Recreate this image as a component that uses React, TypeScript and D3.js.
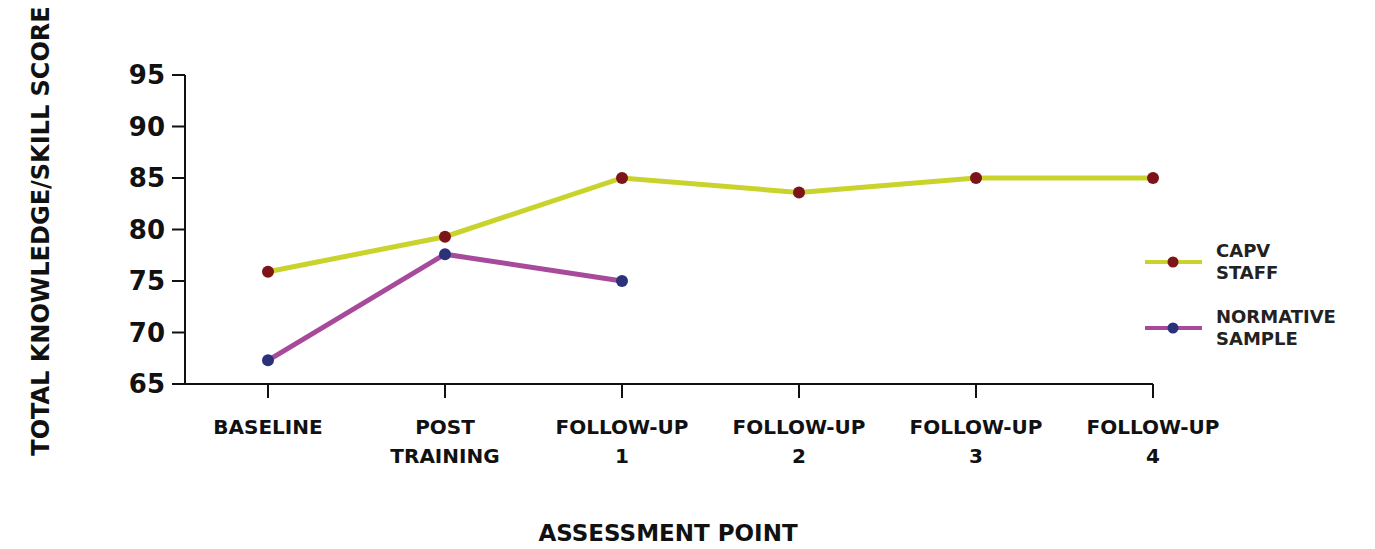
import React from 'react';
import * as d3 from 'd3';

const categories = ['BASELINE|', 'POST|TRAINING', 'FOLLOW-UP|1', 'FOLLOW-UP|2', 'FOLLOW-UP|3', 'FOLLOW-UP|4'];
const capvStaff = [75.9, 79.3, 85, 83.6, 85, 85];
const normativeSample = [67.3, 77.6, 75];
const yTicks = [65, 70, 75, 80, 85, 90, 95];

const series = [
  { name: ['CAPV', 'STAFF'], values: capvStaff, line: '#c9d32c', dot: '#7d1418' },
  { name: ['NORMATIVE', 'SAMPLE'], values: normativeSample, line: '#a84a9b', dot: '#2b327a' },
];

const FONT = '"DejaVu Sans", sans-serif';

export default function App() {
  const width = 1375;
  const height = 549;
  const axisLeft = 185;
  const axisRight = 1153;

  const x = d3.scalePoint<string>().domain(categories).range([268, 1153]);
  const y = d3.scaleLinear().domain([65, 95]).range([384, 75]);

  const line = d3
    .line<number>()
    .x((_, i) => x(categories[i])!)
    .y((d) => y(d));

  return (
    <svg
      width={width}
      height={height}
      style={{ position: 'absolute', left: 0, top: 0, background: '#fff' }}
      fontFamily={FONT}
    >
      {/* y axis */}
      <line x1={axisLeft} x2={axisLeft} y1={y(95)} y2={y(65)} stroke="#111" strokeWidth={2} />
      {yTicks.map((t) => (
        <g key={t}>
          <line x1={172} x2={axisLeft} y1={y(t)} y2={y(t)} stroke="#111" strokeWidth={2} />
          <text x={165} y={y(t)} dy="0.36em" textAnchor="end" fontSize={26} fontWeight="bold" fill="#111">
            {t}
          </text>
        </g>
      ))}

      {/* x axis */}
      <line x1={axisLeft - 1} x2={axisRight} y1={y(65)} y2={y(65)} stroke="#111" strokeWidth={2} />
      {categories.map((c) => {
        const [l1, l2] = c.split('|');
        const cx = x(c)!;
        return (
          <g key={c}>
            <line x1={cx} x2={cx} y1={y(65)} y2={y(65) + 14} stroke="#111" strokeWidth={2} />
            <text x={cx} y={434} textAnchor="middle" fontSize={20} fontWeight="bold" fill="#111">
              {l1}
            </text>
            {l2 && (
              <text x={cx} y={463} textAnchor="middle" fontSize={20} fontWeight="bold" fill="#111">
                {l2}
              </text>
            )}
          </g>
        );
      })}

      {/* series */}
      {series.map((s) => (
        <g key={s.name[0]}>
          <path d={line(s.values)!} fill="none" stroke={s.line} strokeWidth={5} />
          {s.values.map((v, i) => (
            <circle key={i} cx={x(categories[i])!} cy={y(v)} r={6} fill={s.dot} />
          ))}
        </g>
      ))}

      {/* legend */}
      {series.map((s, i) => {
        const ly = 262 + i * 66;
        return (
          <g key={'lg' + i}>
            <line x1={1145} x2={1202} y1={ly} y2={ly} stroke={s.line} strokeWidth={4} />
            <circle cx={1173} cy={ly} r={5.5} fill={s.dot} />
            <text x={1216} y={ly - 5} fontSize={18} fontWeight="bold" fill="#222">
              {s.name[0]}
            </text>
            <text x={1216} y={ly + 17} fontSize={18} fontWeight="bold" fill="#222">
              {s.name[1]}
            </text>
          </g>
        );
      })}

      {/* axis titles */}
      <text x={668} y={541} textAnchor="middle" fontSize={23} fontWeight="bold" fill="#111">
        ASSESSMENT POINT
      </text>
      <text
        transform="translate(49,231) rotate(-90)"
        textAnchor="middle"
        fontSize={24}
        fontWeight="bold"
        fill="#111"
      >
        TOTAL KNOWLEDGE/SKILL SCORE
      </text>
    </svg>
  );
}
